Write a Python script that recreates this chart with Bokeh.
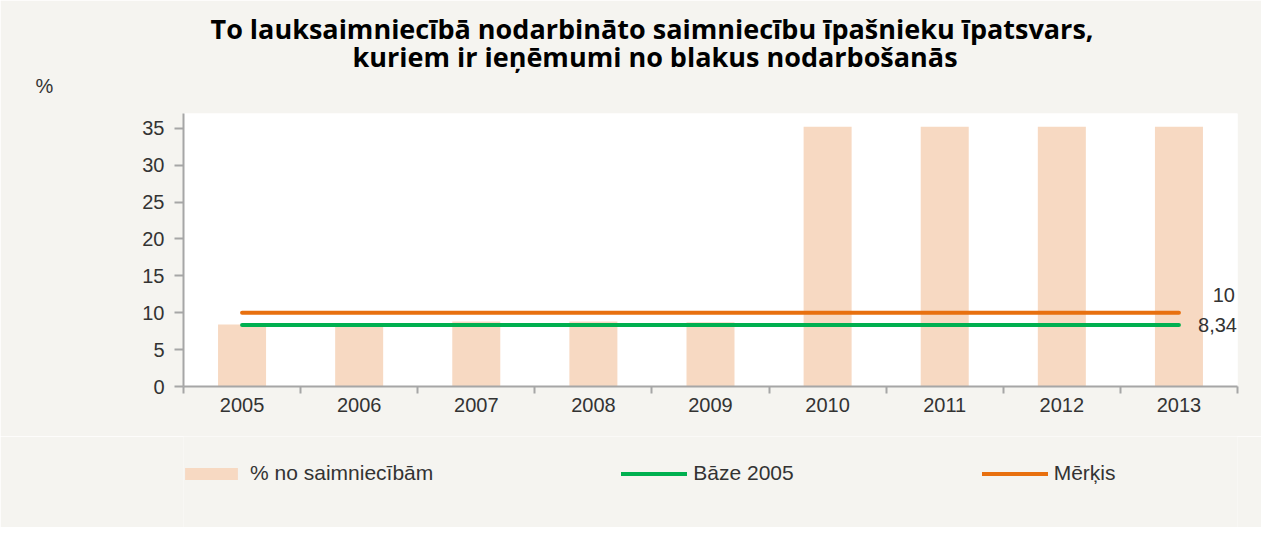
from bokeh.plotting import figure
from bokeh.layouts import column
from bokeh.models import (FactorRange, Range1d, LinearAxis, CategoricalAxis, FixedTicker,
                          Label, Legend, LegendItem, ColumnDataSource, Title)
from bokeh.embed import file_html
from bokeh.resources import INLINE

# ---- data ----
years = ["2005", "2006", "2007", "2008", "2009", "2010", "2011", "2012", "2013"]
share = [8.4, 8.3, 8.8, 8.8, 8.7, 35.2, 35.2, 35.2, 35.2]
base_2005 = 8.34
target = 10.0
y_ticks = [0, 5, 10, 15, 20, 25, 30, 35]
title_lines = ["To lauksaimniecībā nodarbināto  saimniecību īpašnieku īpatsvars,",
               "kuriem ir ieņēmumi no blakus nodarbošanās"]
series_names = ["% no saimniecībām", "Bāze 2005", "Mērķis"]
y_unit = "%"

BG = "#f5f4f0"
BAR = "#f7d9c2"
GREEN = "#00b050"
ORANGE = "#e8700f"
AXIS = "#a6a6a6"
TXT = "#333333"
W = 1261

src = ColumnDataSource(dict(year=years, share=share,
                            base=[base_2005] * len(years), target=[target] * len(years)))


def add_series(fig):
    b = fig.vbar(x="year", top="share", width=0.41, source=src, fill_color=BAR, line_color=None)
    g = fig.line(x="year", y="base", source=src, line_color=GREEN, line_width=4, line_cap="round")
    o = fig.line(x="year", y="target", source=src, line_color=ORANGE, line_width=4, line_cap="round")
    return b, g, o


# ---- main chart ----
p = figure(width=W, height=436, x_range=FactorRange(*years), y_range=Range1d(0, 37),
           output_backend="svg", toolbar_location=None, title_location=None,
           x_axis_location=None, y_axis_location=None,
           background_fill_color="white", border_fill_color=BG, outline_line_color=None,
           min_border_left=183, min_border_right=24, min_border_top=113, min_border_bottom=50)
p.grid.visible = False
add_series(p)

yax = LinearAxis(ticker=FixedTicker(ticks=y_ticks), major_tick_out=9, major_tick_in=0,
                 minor_tick_out=0, minor_tick_in=0,
                 axis_line_color=AXIS, axis_line_width=2, major_tick_line_color=AXIS,
                 major_tick_line_width=2,
                 major_label_text_font="Liberation Sans", major_label_text_font_size="20px",
                 major_label_text_color=TXT, major_label_standoff=10)
p.add_layout(yax, "left")

bticks = list(range(len(years) + 1))
tax = LinearAxis(ticker=FixedTicker(ticks=bticks),
                 major_label_overrides={t: "" for t in bticks},
                 major_tick_out=7, major_tick_in=0, minor_tick_out=0, minor_tick_in=0,
                 axis_line_color=AXIS, axis_line_width=2, major_tick_line_color=AXIS,
                 major_tick_line_width=2, major_label_standoff=0,
                 major_label_text_font_size="2px")
p.add_layout(tax, "below")
cax = CategoricalAxis(axis_line_color=None, major_tick_line_color=None,
                      major_tick_out=0, major_tick_in=0,
                      major_label_text_font="Liberation Sans", major_label_text_font_size="20px",
                      major_label_text_color=TXT, major_label_standoff=4)
p.add_layout(cax, "below")

last = len(years) - 0.5
p.add_layout(Label(x=last, y=target, x_offset=56, y_offset=18, text=f"{target:g}",
                   text_align="right", text_baseline="middle", text_font="Liberation Sans",
                   text_font_size="20px", text_color=TXT))
p.add_layout(Label(x=last, y=base_2005, x_offset=58, y_offset=0,
                   text=f"{base_2005:.2f}".replace(".", ","),
                   text_align="right", text_baseline="middle", text_font="Liberation Sans",
                   text_font_size="20px", text_color=TXT))

# unit label and title lines (stacked above the frame)
p.add_layout(Title(text=y_unit, align="left", offset=-148, vertical_align="top", standoff=30,
                   text_font="Liberation Sans", text_font_size="20px",
                   text_font_style="normal", text_color=TXT), "above")
p.add_layout(Title(text=title_lines[1], align="left", offset=169, vertical_align="bottom",
                   standoff=-30, text_font="Open Sans", text_font_size="27px",
                   text_font_style="bold", text_color="black"), "above")
p.add_layout(Title(text=title_lines[0], align="left", offset=27, vertical_align="bottom",
                   standoff=8, text_font="Open Sans", text_font_size="27px",
                   text_font_style="bold", text_color="black"), "above")

# ---- legend strip (same series, view range set above the data so only the legend shows) ----
pl = figure(width=W, height=91, x_range=FactorRange(*years), y_range=Range1d(100, 200),
            output_backend="svg", toolbar_location=None, title_location=None,
            x_axis_location=None, y_axis_location=None,
            background_fill_color=BG, border_fill_color=BG, outline_line_color=None,
            min_border=0)
pl.grid.visible = False
lb, lg, lo = add_series(pl)
leg = Legend(items=[LegendItem(label=n, renderers=[r]) for n, r in zip(series_names, [lb, lg, lo])],
             location=(-5, 42), orientation="horizontal", spacing=188,
             background_fill_alpha=0, border_line_color=None,
             glyph_width=66, glyph_height=15, label_standoff=6, padding=0, margin=0,
             label_text_font="Liberation Sans", label_text_font_size="21px",
             label_text_color=TXT)
pl.add_layout(leg, "center")

page = column(p, pl, spacing=0)
open("out.html", "w").write(file_html(page, INLINE))
